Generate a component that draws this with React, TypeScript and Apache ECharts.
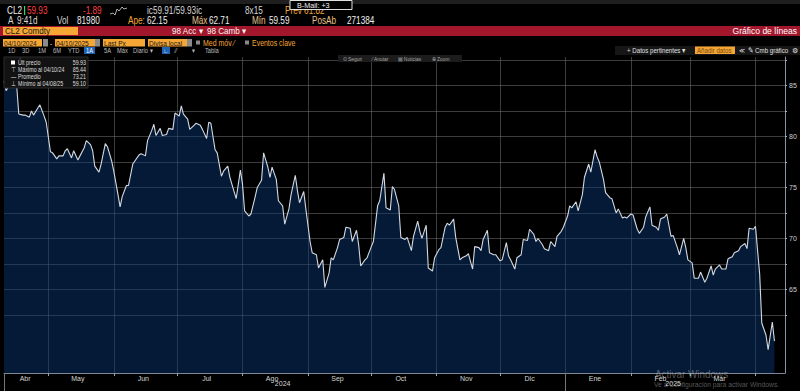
import React, { useEffect, useRef } from "react";
import * as echarts from "echarts";

// ---------- data ----------
const monthNames = ["Ene", "Feb", "Mar", "Abr", "May", "Jun", "Jul", "Ago", "Sep", "Oct", "Nov", "Dic"];
const yTickLabels = [65, 70, 75, 80, 85];
const yTickMarks = [62.5, 65, 67.5, 70, 72.5, 75, 77.5, 80, 82.5, 85, 87.5];

// CL2 Comdty closes, 10 Apr 2024 -> 10 Apr 2025
const pricesAprAug = [
  85.44, 84.5, 85.2, 84.8, 85.0, 82.2, 82.1, 82.1, 81.9, 82.5, 82.1, 82.8, 83.1, 82.0, 81.4,
  78.5, 78.4, 77.8, 78.1, 78.1, 78.6, 78.8, 77.9, 78.6, 77.7, 78.1, 78.9, 79.6, 79.2, 78.6,
  77.1, 76.5, 77.3, 79.3, 79.0, 77.6, 76.6, 74.3, 73.1, 74.1, 75.2, 75.2, 77.3, 77.6, 78.2,
  78.3, 78.1, 79.6, 80.6, 81.2, 80.1, 80.8, 80.1, 80.2, 80.8, 80.7, 82.3, 82.0, 83.0, 82.2,
  81.7, 80.7, 81.1, 81.3, 81.1, 80.7, 79.8, 81.4, 81.3, 78.7, 78.4, 76.1, 76.6, 77.1, 76.0,
  74.6, 73.9, 76.7, 75.3, 72.7, 72.2, 72.4, 74.1, 75.0, 75.7,
];
const pricesAugDec = [
  78.4, 77.0, 76.0, 77.0, 75.8, 73.7, 73.2, 71.4, 72.9, 74.3, 76.2, 74.7, 73.5, 74.6, 72.9,
  69.7, 68.6, 68.4, 67.1, 67.9, 65.2, 66.6, 68.1, 67.9, 69.1, 69.9, 70.1, 71.1, 71.0, 69.7,
  70.8, 69.4, 67.3, 67.9, 68.1, 69.2, 69.7, 73.2, 73.7, 76.4, 73.0, 72.8, 75.1, 74.8, 73.2,
  70.1, 69.9, 70.1, 68.8, 70.2, 71.7, 70.7, 70.0, 71.3, 67.1, 66.8, 68.1, 68.9, 69.1, 71.1,
  71.5, 71.3, 71.9, 70.1, 67.9, 68.1, 68.3, 68.5, 67.0, 69.2, 69.1, 68.8, 69.9, 70.8, 68.6,
  68.4, 68.4, 67.8, 67.9, 69.6, 68.3, 67.9, 67.0, 68.1, 68.4,
];
const pricesDecApr = [
  69.9, 69.8, 70.9, 70.4, 69.7, 70.0, 69.4, 69.0, 68.8, 69.7, 69.2, 70.2, 70.7, 71.1, 72.2,
  73.2, 73.0, 73.6, 72.7, 74.3, 76.0, 77.3, 76.5, 78.7, 78.0, 77.5, 75.8, 74.5, 74.0, 73.9,
  72.5, 72.9, 72.0, 72.1, 72.0, 72.4, 72.3, 70.9, 70.5, 71.1, 72.1, 73.1, 71.3, 71.1, 70.8,
  71.9, 72.1, 72.4, 70.2, 70.3, 69.1, 68.4, 70.0, 69.1, 67.9, 67.6, 66.1, 66.1, 66.7, 65.7,
  66.1, 67.3, 66.4, 67.0, 67.4, 67.0, 67.0, 68.0, 68.2, 68.6, 68.8, 69.2, 69.5, 69.0, 71.0,
  70.9, 71.2, 66.5, 61.7, 60.5, 59.1, 61.8, 59.93,
];
const lastPrice = 59.93;
const maxPrice = 85.44;
const avgPrice = 73.21;
const minPrice = 59.1;

// ---------- axis helpers ----------
const START = Date.UTC(2024, 3, 10);
const DAY = 86400000;
const TOTAL_DAYS = 371; // 10 Apr 2024 .. 15 Apr 2025
const SPAN_DAYS = 365; // first -> last close
const dayDates = Array.from({ length: TOTAL_DAYS }, (_, i) => new Date(START + i * DAY));
const categories = dayDates.map((d) => d.toISOString().slice(0, 10));

const prices = [...pricesAprAug, ...pricesAugDec, ...pricesDecApr];
const seriesData = prices.map((v, i) => [Math.round((i * SPAN_DAYS) / (prices.length - 1)), v]);

const isMonthStart = (i: number) => dayDates[i].getUTCDate() === 1;
const isMonthLabel = (i: number) => {
  const d = dayDates[i];
  if (d.getUTCFullYear() === 2024 && d.getUTCMonth() === 3) return d.getUTCDate() === 20;
  if (d.getUTCFullYear() === 2025 && d.getUTCMonth() === 3) return false;
  return d.getUTCDate() === 15;
};
const isYearTick = (i: number) => i === 0 || (dayDates[i].getUTCMonth() === 0 && dayDates[i].getUTCDate() === 1);
const isYearLabel = (i: number) => {
  const d = dayDates[i];
  return (d.getUTCFullYear() === 2024 && d.getUTCMonth() === 7 && d.getUTCDate() === 20) ||
    (d.getUTCFullYear() === 2025 && d.getUTCMonth() === 1 && d.getUTCDate() === 21);
};

const FONT = '"Liberation Sans", Arial, sans-serif';
const ORANGE = "#f5a634";

function txt(x: number, y: number, text: string, fill = "#e6e6e6", size = 10, align = "left", sx = 0.82, z = 100) {
  return {
    type: "text",
    x,
    y,
    scaleX: sx,
    z,
    silent: true,
    style: { text, fill, font: `${size}px ${FONT}`, textAlign: align, textVerticalAlign: "middle" },
  };
}
function box(x: number, y: number, w: number, h: number, fill: string, stroke?: string, z = 99) {
  return {
    type: "rect",
    z,
    silent: true,
    shape: { x, y, width: w, height: h },
    style: stroke ? { fill, stroke, lineWidth: 1 } : { fill },
  };
}

const headerGraphics: any[] = [
  box(0, 0, 800, 4, "#1f1f1f"),
  // row 2
  txt(7, 11, "CL2", "#f0f0f0", 10),
  box(24, 6, 1.2, 9, "#3bd16f"),
  txt(27, 11, "59.93", "#ff4040", 10),
  txt(83, 11, "-1.89", "#ff4040", 10),
  {
    type: "polyline",
    z: 100,
    silent: true,
    shape: { points: [[110, 14], [113, 13], [115, 15], [117, 9], [119, 11], [122, 7], [124, 9], [127, 8]] },
    style: { stroke: "#dcdcdc", lineWidth: 0.8, fill: "none" },
  },
  txt(147, 11, "ic59.91/59.93ic", "#d8d8d8", 10),
  txt(245, 11, "8x15", "#d8d8d8", 10),
  txt(285, 11, "Prev 61.82", ORANGE, 10),
  box(290, 0.5, 62, 9, "#000", "#e0e0e0", 101),
  txt(297, 5, "B-Mail: +3", "#f0f0f0", 8, "left", 0.9, 102),
  // row 3
  txt(8, 21, "A", "#d8d8d8", 10),
  txt(17, 21, "9:41d", "#d8d8d8", 10),
  txt(57, 21, "Vol", "#d8d8d8", 10),
  txt(77, 21, "81980", "#f0f0f0", 10),
  txt(128, 21, "Ape:", ORANGE, 10),
  txt(147, 21, "62.15", "#f0f0f0", 10),
  txt(192, 21, "Máx", "#e9c08a", 10),
  txt(209, 21, "62.71", "#f0f0f0", 10),
  txt(252, 21, "Mín", "#e9c08a", 10),
  txt(269, 21, "59.59", "#f0f0f0", 10),
  txt(312, 21, "PosAb", "#e9c08a", 10),
  txt(347, 21, "271384", "#f0f0f0", 10),
  // row 4 (red band)
  box(0, 26, 800, 10, "#a3172d"),
  box(3, 27, 75, 8, ORANGE),
  txt(5, 31, "CL2 Comdty", "#1a1a1a", 9, "left", 0.9),
  txt(172, 31, "98 Acc ▾", "#f5f5f5", 9, "left", 0.9),
  txt(207, 31, "98 Camb ▾", "#f5f5f5", 9, "left", 0.9),
  txt(797, 31, "Gráfico de líneas", "#ffffff", 9.5, "right", 0.9),
  // row 5
  box(3, 39, 39, 7.5, ORANGE),
  txt(4, 43, "04/10/2024", "#1a1a1a", 8),
  box(43, 39, 5, 7.5, "#8a8a8a"),
  txt(50, 43, "-", "#e0e0e0", 8),
  box(55, 39, 40, 7.5, ORANGE),
  txt(56, 43, "04/10/2025", "#1a1a1a", 8),
  box(95, 39, 5, 7.5, "#8a8a8a"),
  box(103, 39, 42, 7.5, ORANGE),
  txt(104, 43, "Last Px", "#1a1a1a", 8),
  box(148, 39, 39, 7.5, ORANGE),
  txt(149, 43, "Divisa local", "#1a1a1a", 8),
  box(187, 39, 5, 7.5, "#8a8a8a"),
  box(196, 40.5, 4, 4, "#888"),
  txt(203, 43, "Med móv ⁄", ORANGE, 8.5),
  box(245, 40.5, 4, 4, "#888"),
  txt(252, 43, "Eventos clave", ORANGE, 8.5),
  // row 6
  txt(8, 50.5, "1D", "#bdbdbd", 7),
  txt(22, 50.5, "3D", "#bdbdbd", 7),
  txt(38, 50.5, "1M", "#bdbdbd", 7),
  txt(53, 50.5, "6M", "#bdbdbd", 7),
  txt(68, 50.5, "YTD", "#bdbdbd", 7),
  box(84, 47, 11, 7, "#1f63b4"),
  txt(86, 50.5, "1A", "#ffffff", 7),
  txt(104, 50.5, "5A", "#bdbdbd", 7),
  txt(117, 50.5, "Máx", "#bdbdbd", 7),
  txt(133, 50.5, "Diario ▾", "#bdbdbd", 7),
  box(162, 47, 8, 7, "#1f63b4"),
  txt(163.5, 50.5, "∟", "#ffffff", 6),
  txt(175, 50.5, "⁄⁄", "#bdbdbd", 7),
  txt(192, 50.5, "▾", "#bdbdbd", 7),
  txt(205, 50.5, "Tabla", "#bdbdbd", 7),
  box(615, 46, 185, 9, "#161616"),
  txt(627, 50.5, "+ Datos pertinentes ▾", "#e0e0e0", 7.5),
  box(695, 46.5, 40, 7.5, ORANGE),
  txt(697, 50.5, "Añadir datos", "#7a4a10", 7.5),
  txt(739, 50.5, "≪", "#e0e0e0", 7),
  txt(748, 50.5, "✎ Cmb gráfico", "#e0e0e0", 7.5),
  txt(792, 50.5, "⚙", "#e0e0e0", 7, "left", 1),
  // row 7 toolbar
  box(338, 55, 124, 7, "#1c1c1c"),
  txt(343, 58.5, "⊙ Seguir", "#a8a8a8", 6),
  txt(372, 58.5, "⁄ Anotar", "#a8a8a8", 6),
  txt(398, 58.5, "▤ Noticias", "#a8a8a8", 6),
  txt(432, 58.5, "⊕ Zoom", "#a8a8a8", 6),
  // legend box
  box(4, 57, 84, 31, "#121212", "#2c2c2c"),
  box(11, 60.5, 4, 4, "#ffffff"),
  txt(18, 63, "Últ precio", "#dedede", 6.5),
  txt(86, 63, lastPrice.toFixed(2), "#dedede", 6.5, "right"),
  txt(11, 70, "⊤", "#dedede", 6.5),
  txt(18, 70, "Máximo al 04/10/24", "#dedede", 6.5),
  txt(86, 70, maxPrice.toFixed(2), "#dedede", 6.5, "right"),
  txt(11, 77, "—", "#dedede", 6.5),
  txt(18, 77, "Promedio", "#dedede", 6.5),
  txt(86, 77, avgPrice.toFixed(2), "#dedede", 6.5, "right"),
  txt(11, 84, "⊥", "#dedede", 6.5),
  txt(18, 84, "Mínimo al 04/08/25", "#dedede", 6.5),
  txt(86, 84, minPrice.toFixed(2), "#dedede", 6.5, "right"),
  // windows watermark
  txt(655, 374, "Activar Windows", "rgba(200,200,200,0.45)", 11, "left", 0.9),
  txt(654, 384.5, "Ve a Configuración para activar Windows.", "rgba(200,200,200,0.45)", 7.5, "left", 0.9),
];

export default function App() {
  const ref = useRef<HTMLDivElement>(null);
  useEffect(() => {
    if (!ref.current) return;
    const chart = echarts.init(ref.current, undefined, { renderer: "svg" });
    chart.setOption({
      animation: false,
      backgroundColor: "#000000",
      textStyle: { fontFamily: FONT },
      grid: { left: 4, right: 15, top: 57, bottom: 18, containLabel: false, outerBoundsMode: "none" },
      xAxis: [
        {
          type: "category",
          data: categories,
          boundaryGap: false,
          axisLine: { show: true, lineStyle: { color: "#7d8694", width: 1 } },
          axisTick: { show: true, interval: (i: number) => isMonthStart(i), length: 3, lineStyle: { color: "#9aa3ad" } },
          axisLabel: {
            interval: (i: number) => isMonthLabel(i),
            formatter: (v: string) => monthNames[new Date(v + "T00:00:00Z").getUTCMonth()],
            color: "#d6d6d6",
            fontSize: 7,
            margin: 2,
            hideOverlap: false,
          },
          splitLine: { show: true, interval: (i: number) => isMonthStart(i), lineStyle: { color: "rgba(120,120,120,0.5)", width: 1 } },
        },
        {
          type: "category",
          data: categories,
          boundaryGap: false,
          position: "bottom",
          axisLine: { show: false },
          axisTick: { show: true, interval: (i: number) => isYearTick(i), length: 18, lineStyle: { color: "#777" } },
          axisLabel: {
            interval: (i: number) => isYearLabel(i),
            formatter: (v: string) => v.slice(0, 4),
            color: "#d6d6d6",
            fontSize: 7,
            margin: 7,
            hideOverlap: false,
          },
          splitLine: { show: false },
        },
      ],
      yAxis: {
        type: "value",
        position: "right",
        min: 56.8,
        max: 87.8,
        axisLine: { show: true, lineStyle: { color: "#8a93a0" } },
        axisTick: { show: true, length: 2, customValues: yTickMarks, lineStyle: { color: "#b0b0b0" } },
        axisLabel: {
          customValues: yTickLabels,
          formatter: (v: number) => (yTickLabels.includes(v) ? String(v) : ""),
          color: "#d0d0d0",
          fontSize: 7,
          margin: 4,
        },
        splitLine: { show: true, lineStyle: { color: "rgba(120,120,120,0.5)", width: 1 } },
      },
      series: [
        {
          type: "line",
          xAxisIndex: 0,
          data: seriesData,
          symbol: "none",
          lineStyle: { color: "#d3d9e2", width: 1.1 },
          areaStyle: { color: "rgba(8,54,116,0.68)", origin: "start" },
          markLine: {
            silent: true,
            symbol: "none",
            lineStyle: { opacity: 0 },
            label: {
              show: true,
              position: "end",
              distance: 1,
              formatter: lastPrice.toFixed(2),
              color: "#f0f0f0",
              fontSize: 5.5,
              backgroundColor: "#000",
              borderColor: "#c8c8c8",
              borderWidth: 1,
              padding: [1, 0, 1, 1],
            },
            data: [{ yAxis: lastPrice }],
          },
        },
      ],
      graphic: { elements: headerGraphics },
    });
    return () => chart.dispose();
  }, []);
  return <div ref={ref} style={{ position: "absolute", left: 0, top: 0, width: 800, height: 391, background: "#000" }} />;
}
